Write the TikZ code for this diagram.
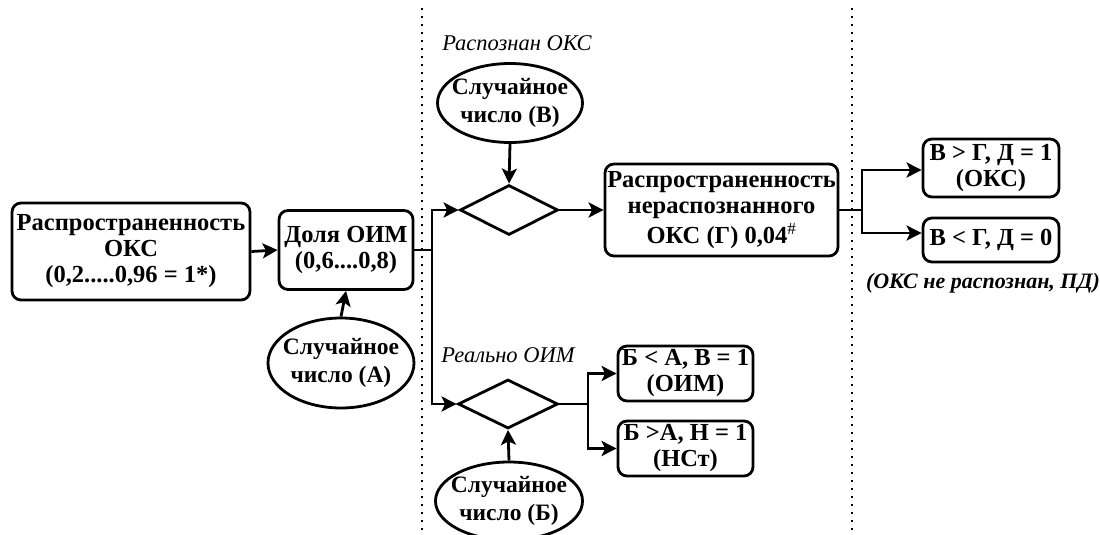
\documentclass[tikz,border=0pt]{standalone}
\usepackage{fontspec}
\setmainfont{Liberation Serif}
\usetikzlibrary{shapes.geometric,arrows.meta}
\begin{document}
\begin{tikzpicture}[x=1pt,y=-1pt,
  font=\fontsize{24.5}{26}\selectfont\bfseries,
  line width=2.8pt,
  box/.style={draw,rounded corners=9pt,align=center,inner sep=0pt},
  oval/.style={draw,ellipse,inner sep=0pt},
  txt/.style={align=center,inner sep=0pt,font=\fontsize{23.5}{28}\selectfont\bfseries},
  dmd/.style={draw,diamond,inner sep=0pt},
  arr/.style={-{Stealth[length=15pt,width=15pt,inset=3.5pt]}},
  sep/.style={line width=1.8pt,dash pattern=on 1.8pt off 6.2pt},
  lbl/.style={font=\fontsize{22.5}{24}\selectfont\itshape}]
\useasboundingbox (0,0) rectangle (1100,535);
% separators
\draw[sep] (422,8) -- (422,535);
\draw[sep] (852,8) -- (852,535);
% nodes
\node[box,minimum width=238,minimum height=97] (b1) at (131,251.5) {Распространенность\\ОКС\\(0,2.....0,96 = 1*)};
\node[box,minimum width=134,minimum height=79] (b2) at (346,250) {Доля ОИМ\\(0,6....0,8)};
\node[oval,minimum width=146,minimum height=90] (eA) at (341,363) {};
\node[txt] (tA) at (eA) {Случайное\\число (А)};
\node[oval,minimum width=145,minimum height=79] (eB) at (510,103) {};
\node[txt] (tB) at (eB) {Случайное\\число (В)};
\node[dmd,minimum width=98,minimum height=50] (d1) at (509,210) {};
\node[box,minimum width=233,minimum height=92] (g) at (721.5,210) {Распространенность\\нераспознанного\\[4pt]ОКС (Г) 0,04$^{\#}$};
\node[box,minimum width=136,minimum height=58] (r1) at (991,168) {В > Г, Д = 1\\(ОКС)};
\node[box,minimum width=136,minimum height=44] (r2) at (991,240) {В < Г, Д = 0};
\node[dmd,minimum width=100,minimum height=49] (d2) at (508,404) {};
\node[oval,minimum width=147,minimum height=78] (eC) at (509,501) {};
\node[txt] (tC) at (eC) {Случайное\\число (Б)};
\node[box,minimum width=135,minimum height=55] (s1) at (685.5,373.5) {Б < А, В = 1\\(ОИМ)};
\node[box,minimum width=135,minimum height=55] (s2) at (685.5,448.5) {Б >А, Н = 1\\(НСт)};
% labels
\node[lbl] (t1) at (517,43) {Распознан ОКС};
\node[lbl] (t2) at (508,355) {Реально ОИМ};
\node[lbl,font=\fontsize{22}{24}\selectfont\bfseries\itshape] (t3) at (983,283) {(ОКС не распознан, ПД)};
% connectors
\draw[arr] (b1.east) -- (b2.west);
\draw[arr] (eA.north) -- (b2.south);
\coordinate (j1) at (432,250);
\draw (b2.east) -- (j1);
\draw[arr] (j1) |- (d1.west);
\draw[arr] (j1) |- (d2.west);
\draw[arr] (eB.south) -- (d1.north);
\draw[arr] (d1.east) -- (g.west);
\coordinate (j2) at (862,210);
\draw (g.east) -- (j2);
\draw[arr] (j2) |- ([yshift=-2pt]r1.west);
\draw[arr] (j2) |- ([yshift=7pt]r2.west);
\draw[arr] (eC.north) -- (d2.south);
\coordinate (j3) at (588,404);
\draw (d2.east) -- (j3);
\draw[arr] (j3) |- (s1.west);
\draw[arr] (j3) |- (s2.west);
\end{tikzpicture}
\end{document}
